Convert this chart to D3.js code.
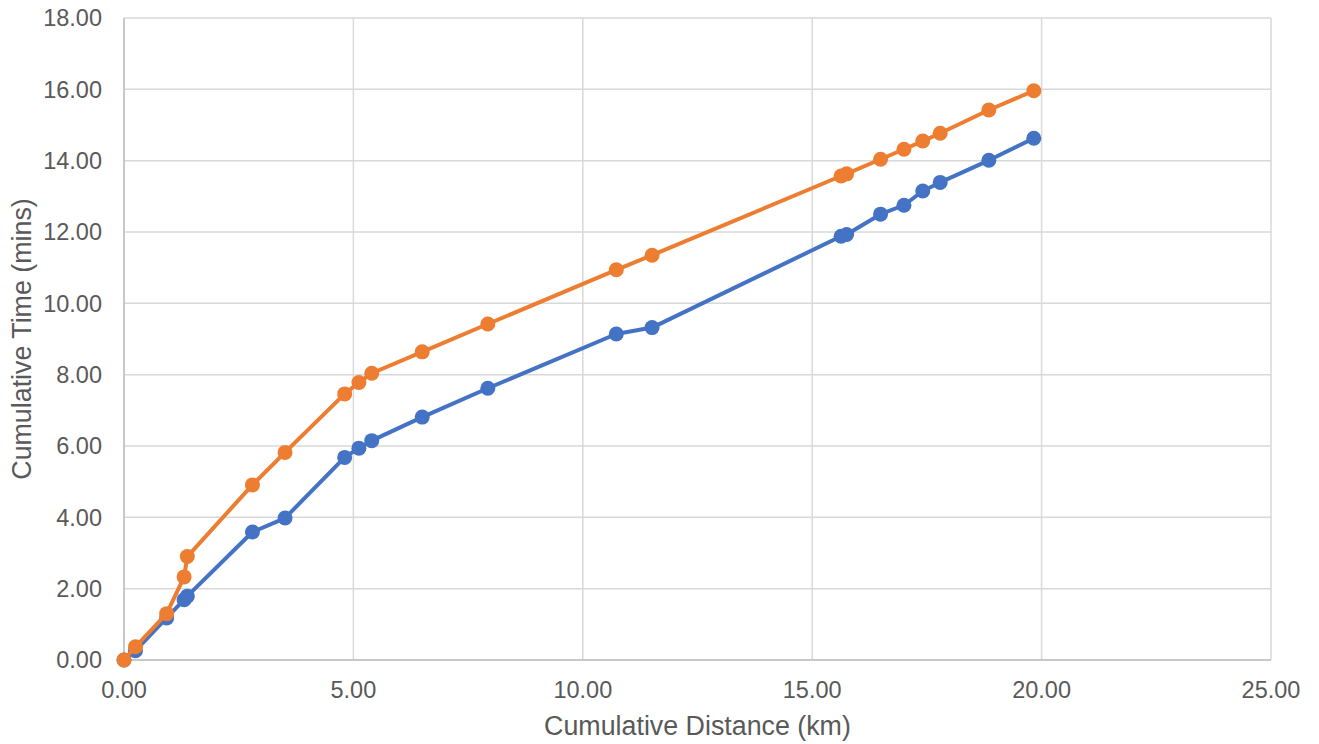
<!DOCTYPE html>
<html><head><meta charset="utf-8">
<script src="https://cdn.jsdelivr.net/npm/d3@7"></script>
<style>body{margin:0;background:#fff}svg{display:block}text{font-family:"Liberation Sans",Arial,sans-serif;fill:#595959}</style>
</head><body>
<script>
const distances = [0, 0.25, 0.93, 1.31, 1.38, 2.80, 3.51, 4.81, 5.12, 5.40, 6.50, 7.93, 10.73, 11.51, 15.63, 15.75, 16.49, 17.00, 17.41, 17.79, 18.85, 19.83];
const timeBlue = [0, 0.26, 1.18, 1.69, 1.79, 3.59, 3.98, 5.68, 5.94, 6.15, 6.81, 7.62, 9.14, 9.32, 11.88, 11.93, 12.50, 12.75, 13.15, 13.39, 14.01, 14.63];
const timeOrange = [0, 0.37, 1.30, 2.33, 2.90, 4.91, 5.82, 7.46, 7.78, 8.04, 8.64, 9.42, 10.94, 11.35, 13.57, 13.63, 14.04, 14.32, 14.55, 14.77, 15.42, 15.96];
const xTicks = [0, 5, 10, 15, 20, 25];
const yTicks = [0, 2, 4, 6, 8, 10, 12, 14, 16, 18];
const xTitle = "Cumulative Distance (km)";
const yTitle = "Cumulative Time (mins)";
const colors = ["#4472C4", "#ED7D31"];

const W = 1319, H = 744;
const m = {left: 124, right: W - 1271, top: 18, bottom: H - 660};
const svg = d3.select("body").append("svg").attr("width", W).attr("height", H);
const x = d3.scaleLinear().domain([0, 25]).range([m.left, W - m.right]);
const y = d3.scaleLinear().domain([0, 18]).range([H - m.bottom, m.top]);

// gridlines
svg.append("g").selectAll("line").data(yTicks).join("line")
  .attr("x1", x(0)).attr("x2", x(25)).attr("y1", d => y(d)).attr("y2", d => y(d))
  .attr("stroke", "#D9D9D9").attr("stroke-width", 1.5);
svg.append("g").selectAll("line").data(xTicks).join("line")
  .attr("y1", y(0)).attr("y2", y(18)).attr("x1", d => x(d)).attr("x2", d => x(d))
  .attr("stroke", "#D9D9D9").attr("stroke-width", 1.5);
// axis lines
svg.append("line").attr("x1", x(0)).attr("x2", x(25)).attr("y1", y(0)).attr("y2", y(0)).attr("stroke", "#BFBFBF").attr("stroke-width", 1.5);
svg.append("line").attr("x1", x(0)).attr("x2", x(0)).attr("y1", y(0)).attr("y2", y(18)).attr("stroke", "#BFBFBF").attr("stroke-width", 1.5);

// tick labels
svg.append("g").selectAll("text").data(yTicks).join("text")
  .attr("x", 102).attr("y", d => y(d)).attr("dy", "0.35em").attr("text-anchor", "end")
  .attr("font-size", 23.5).text(d => d.toFixed(2));
svg.append("g").selectAll("text").data(xTicks).join("text")
  .attr("x", d => x(d)).attr("y", 690).attr("dy", "0.35em").attr("text-anchor", "middle")
  .attr("font-size", 23.5).text(d => d.toFixed(2));

// titles
svg.append("text").attr("x", (x(0) + x(25)) / 2).attr("y", 726).attr("dy", "0.35em")
  .attr("text-anchor", "middle").attr("font-size", 26.8).text(xTitle);
svg.append("text").attr("transform", `translate(22,${(y(0) + y(18)) / 2}) rotate(-90)`)
  .attr("dy", "0.35em").attr("text-anchor", "middle").attr("font-size", 26.8).text(yTitle);

const series = [timeBlue, timeOrange];
series.forEach((vals, i) => {
  const pts = distances.map((d, j) => [d, vals[j]]);
  const g = svg.append("g");
  g.append("path").datum(pts)
    .attr("d", d3.line().x(d => x(d[0])).y(d => y(d[1])))
    .attr("fill", "none").attr("stroke", colors[i]).attr("stroke-width", 4).attr("stroke-linejoin", "round");
  g.selectAll("circle").data(pts).join("circle")
    .attr("cx", d => x(d[0])).attr("cy", d => y(d[1])).attr("r", 7.5)
    .attr("fill", colors[i]);
});
</script>
</body></html>
